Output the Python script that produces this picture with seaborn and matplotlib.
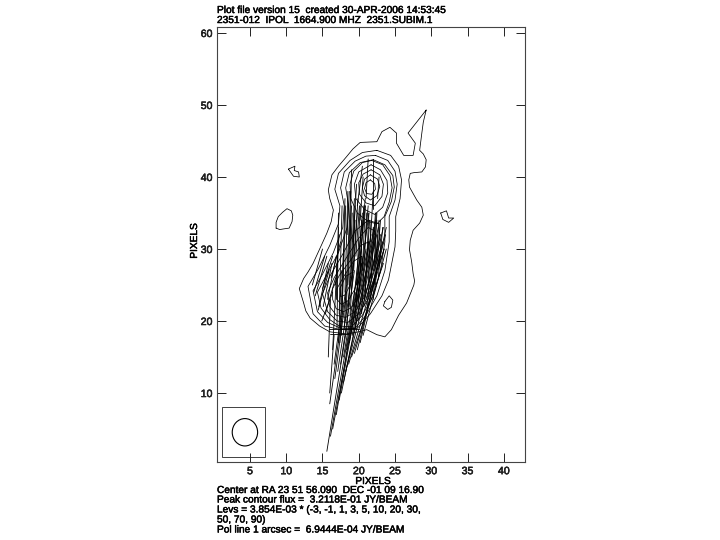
import numpy as np
import pandas as pd
import matplotlib
matplotlib.use("Agg")
import matplotlib.pyplot as plt
import matplotlib.patheffects as pe
from matplotlib.patches import Rectangle, Ellipse
import seaborn as sns

outer = [(29.3,49.3),(28.9,47.6),(28.7,46.1),(28.4,43.7),(28.9,43.2),(29.3,42.4),(29.2,41.4),(28.7,40.7),(27.6,40.6),(27.1,40.5),(26.9,39.6),(27.0,38.6),(28.0,36.8),(28.7,35.8),(28.9,34.7),(28.4,33.6),(27.5,32.6),(27.1,31.2),(27.0,29.9),(27.3,28.2),(27.5,26.6),(27.7,25.6),(27.6,25.0),(26.6,22.5),(25.5,20.8),(25.0,19.8),(24.5,18.8),(23.6,17.8),(22.5,18.1),(21.1,18.8),(20.0,18.5),(18.3,18.2),(16.0,18.5),(14.6,19.3),(13.3,20.4),(12.7,21.4),(12.4,22.5),(11.8,24.5),(12.4,25.9),(13.0,26.8),(13.7,28.0),(14.7,30.2),(15.6,32.2),(16.2,33.8),(16.5,35.4),(16.0,37.0),(15.8,38.2),(16.3,40.3),(17.2,41.5),(18.3,42.8),(19.2,43.9),(20.2,44.8),(22.5,44.9),(23.2,46.3),(24.3,46.9),(25.2,46.1),(25.2,44.7),(26.2,43.0),(27.5,43.0),(27.8,44.7),(26.8,46.1)]
island_a = [(8.6,32.9),(8.6,33.7),(8.9,34.5),(9.5,35.1),(10.1,35.6),(10.7,35.3),(10.9,34.7),(10.8,33.8),(10.4,32.9),(9.7,32.8),(9.1,32.7)]
island_b = [(10.3,41.1),(11.2,41.5),(11.1,40.9),(11.7,40.7),(11.8,40.0),(11.0,40.1)]
island_c = [(31.3,35.0),(32.1,35.3),(32.4,34.3),(33.1,34.3),(32.4,33.7),(31.6,34.1)]
island_d = [(23.6,22.7),(24.2,23.5),(24.7,22.9),(24.5,21.9),(24.0,21.6),(23.4,22.1)]
joined_2 = [(22.5,43.7),(24.4,43.0),(25.5,41.5),(25.9,39.6),(25.7,37.0),(25.1,34.5),(25.1,32.5),(25.0,30.3),(24.1,25.7),(23.2,23.5),(21.6,21),(19.8,19),(17.5,18.8),(15.3,19.3),(13.7,21),(13,24.8),(14.4,27.2),(16,30.5),(17.2,33.5),(17.4,36),(16.7,38.3),(17.2,40.5),(18.8,42.3),(20.5,43.4)]
joined_3 = [(22.3,43.0),(24,42.3),(25,40.8),(25.3,39),(25,36.8),(24.2,34.5),(24.2,31),(23.6,27),(22.5,23.5),(21,20.8),(19.5,19),(17.5,19.0),(15.7,19.8),(14.3,21.3),(13.7,24.2),(15,26.5),(16.5,29.5),(17.8,33),(18,36),(17.5,38.5),(18,40.7),(19.5,42.2),(21,42.9)]
joined_4 = [(22,42.4),(23.6,41.7),(24.7,40.2),(24.9,38.6),(24.5,36.6),(23.6,34.5),(23.6,31),(23,27),(22,23.5),(20.5,20.8),(19,19.2),(17.3,19.3),(16,20.2),(14.8,21.8),(14.3,24),(15.5,26.3),(17.2,29.5),(18.4,33),(18.6,36),(18.2,38.5),(18.7,40.6),(20.2,42)]
north_2 = [(21.8,42.3),(23.3,41.7),(24.3,40.2),(24.6,38.5),(24.2,36.5),(23.5,34.5),(22.5,33.5),(21.3,33.8),(19.8,35),(18.9,37),(18.8,39),(19.3,40.8),(20.5,42)]
north_3 = [(21.7,41.7),(23,41),(23.9,39.5),(24.0,37.8),(23.3,35.8),(22.2,34.8),(20.8,35.5),(19.6,37),(19.4,39),(20,40.7)]
north_4 = [(21.7,41),(22.9,40.3),(23.4,39),(23.2,37.3),(22.2,36),(21,36.4),(20.1,37.6),(20,39.2),(20.6,40.4)]
north_5 = [(21.6,40.3),(22.6,39.7),(22.9,38.7),(22.5,37.4),(21.6,36.8),(20.8,37.4),(20.5,38.5),(20.8,39.7)]
north_6 = [(21.6,39.6),(22.2,39.1),(22.3,38.3),(21.8,37.6),(21.1,37.7),(20.8,38.4),(21,39.2)]
south_1 = [(22.8,33.5),(23,30),(22.4,26.5),(21.4,23.2),(20,21),(18.5,19.8),(17,20),(15.7,21.3),(15,23.8),(16,26.2),(17.8,29.3),(19.5,32.5),(21.3,34)]
south_2 = [(22.2,32.5),(22.3,29.5),(21.6,26),(20.7,23.2),(19.5,21.3),(18.2,20.5),(16.9,20.8),(16,22),(15.7,23.9),(16.6,26),(18.3,28.8),(20,31.5),(21.3,33)]
south_3 = [(21.4,31),(21.4,28.7),(20.8,25.8),(20,23.3),(18.9,21.8),(17.9,21.3),(16.9,21.7),(16.4,23),(16.4,24.5),(17.3,26.3),(18.9,28.5),(20.3,30.5)]
south_4 = [(20.4,29),(20.2,26.8),(19.4,24.3),(18.5,22.8),(17.6,22.3),(17,23),(17,24.5),(18,26.3),(19.3,28.3)]
south_5 = [(19.2,26.8),(18.8,25),(18.1,23.6),(17.5,23.4),(17.4,24.5),(18.2,26.2)]
contours = [outer, island_a, island_b, island_c, island_d, joined_2, joined_3, joined_4,
            north_2, north_3, north_4, north_5, north_6,
            south_1, south_2, south_3, south_4, south_5]

pol_start_x = [15.6,16.1,16.4,16.0,16.9,17.3,17.6,17.9,18.2,18.6,19.0,19.4,19.8,20.2,20.6,16.7,17.1,17.5,17.9,18.3,18.7,19.1,19.5,19.9,20.3,20.7,21.1,21.5,17.6,18.0,18.4,18.8,19.2,19.6,20.0,17.2,16.4,16.6,16.0,15.8,
               14.5,14.0,13.6,15.0,15.4,14.9,19.8,21.0,22.0,22.6,20.5,19.2,18.8,18.4,20.8,21.6,22.2,16.1,15.9,20.2,
               17.0,17.3,17.7,18.1,18.5,18.9,19.3,19.7,20.1,20.5,20.9,21.3,21.7,22.1,22.4,16.9,17.4,18.2,18.6,19.0,19.5,19.9,20.4,20.8,21.2,21.6,22.0,22.3,22.7,16.8,13.8,14.4,15.1,15.7,16.2,19.6,20.1,22.1]
pol_start_y = [1.9,4,5,8.5,7,9,10,11.5,13,14,15,15.5,16,17,18,12,13,14,15,16,17,18,19,20,21,22,23,24,18,19,20,21,22,23,24,17,16,14,10,15,
               22,23.5,25,24.5,21,20,36,37,35.5,37,33,31,30,32,30,31,32,18.2,18.9,34,
               19,21,22,24,25,26,27,25,26,27,24,25,26,27,28,23,17,20,22,24,20,22,21,23,22,24,23,25,26,25,24,21.5,22,23,26,29,30,30]
pol_end_x = [18.5,19.6,20.3,18.3,20.4,21.0,21.9,22.3,22.6,23.0,23.4,23.5,23.7,23.8,23.8,18.3,19.3,19.4,20.4,20.6,21.4,21.7,22.3,22.7,23.0,23.3,23.4,23.5,18.2,18.9,19.5,19.9,20.4,20.9,21.4,17.6,17.0,17.7,16.6,16.1,
             15.8,15.6,15.0,16.4,16.8,16.4,20.5,21.3,22.0,22.8,20.9,19.7,19.0,18.7,21.3,22.0,22.4,18.7,20.1,20.6,
             17.2,17.7,18.1,18.5,19.0,19.4,19.8,20.2,20.6,20.9,21.4,21.7,22.1,22.5,22.8,17.2,17.9,18.8,19.1,19.5,20.4,20.7,21.1,21.5,22.0,22.3,22.6,23.0,23.3,17.3,15.3,15.9,16.3,16.9,17.5,20.1,20.5,22.5]
pol_end_y = [20,24,26,25,28,30,31,32,30,29,28,30,32,33,30,24,28,27,30,29,31,32,34,33,32,31,33,30,36,38,34,37,33,36,35,27,28,22,18,23,
             28,29,30,29,26,24,41.5,42.5,42.5,40,37,39,41,38,36,38,35,18.2,18.9,40,
             35,36,37,38,36,37,35,36,34,36,35,34,33,35,34,33,30,34,35,36,34,36,35,34,33,35,32,34,33,32,29,27,28,29,31,36,35,34]
pol_lines = list(zip(pol_start_x, pol_start_y, pol_end_x, pol_end_y))

x_ticks = [5, 10, 15, 20, 25, 30, 35, 40]
y_ticks = [10, 20, 30, 40, 50, 60]
title_lines = ["Plot file version 15  created 30-APR-2006 14:53:45",
               "2351-012  IPOL  1664.900 MHZ  2351.SUBIM.1"]
footer_lines = ["Center at RA 23 51 56.090  DEC -01 09 16.90",
                "Peak contour flux =  3.2118E-01 JY/BEAM",
                "Levs = 3.854E-03 * (-3, -1, 1, 3, 5, 10, 20, 30,",
                "50, 70, 90)",
                "Pol line 1 arcsec =  6.9444E-04 JY/BEAM"]

rows = []
for i, c in enumerate(contours):
    for x, y in list(c) + [c[0]]:
        rows.append((x, y, i))
contour_df = pd.DataFrame(rows, columns=["x", "y", "id"])
rows = []
for i, (a, b, c, d) in enumerate(pol_lines):
    rows += [(a, b, i), (c, d, i)]
pol_df = pd.DataFrame(rows, columns=["x", "y", "id"])

sns.set_theme(style="ticks")
plt.rcParams["font.family"] = ["Liberation Sans", "DejaVu Sans"]
fig = plt.figure(figsize=(7.2, 5.4), dpi=100, facecolor="white")
ax = fig.add_axes([216.5/720, 1-462/540, (525-216.5)/720, (462-27)/540])

sns.lineplot(data=contour_df, x="x", y="y", units="id", estimator=None, sort=False,
             color="black", lw=0.55, ax=ax, legend=False)
sns.lineplot(data=pol_df, x="x", y="y", units="id", estimator=None, sort=False,
             color="black", lw=0.6, ax=ax, legend=False)
ax.add_patch(Rectangle((1.1, 1.07), 6.0, 6.93, fill=False, ec="#222222", lw=0.6))
ax.add_patch(Ellipse((4.3, 4.55), 3.5, 3.8, fill=False, ec="black", lw=0.8))

ax.set_xlim(0.38, 42.93)
ax.set_ylim(0.42, 60.83)
ax.set_xticks(x_ticks)
ax.set_yticks(y_ticks)
ax.tick_params(axis="both", direction="in", length=6.5, width=0.7, top=True, right=True,
               labelsize=7.6, colors="#222222", pad=3)
heavy = [pe.withStroke(linewidth=0.35, foreground="black")]
for lab in ax.get_xticklabels() + ax.get_yticklabels():
    lab.set_path_effects(heavy)
for s in ax.spines.values():
    s.set_visible(True)
    s.set_linewidth(0.8)
    s.set_color("#444444")
ax.set_xlabel("")
ax.set_ylabel("")

def put(x, y, s, **kw):
    fig.text(x/720, 1-y/540, s, fontsize=7.3, color="black", va="center",
             path_effects=heavy, **kw)

for y, s in zip([10, 20], title_lines):
    put(217, y, s)
for y, s in zip([490, 499.5, 509.5, 519.5, 529.5], footer_lines):
    put(217, y, s)
put(373, 481, "PIXELS", ha="center")
put(194, 241, "PIXELS", rotation=90, ha="center")

fig.savefig("out.png", dpi=100, facecolor="white")
